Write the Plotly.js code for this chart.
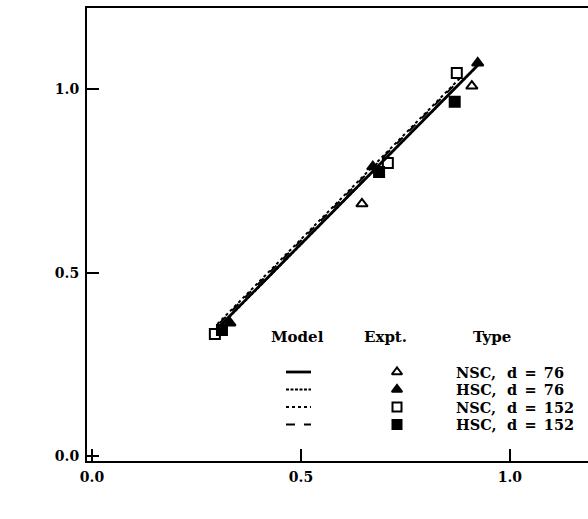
<!DOCTYPE html>
<html>
<head>
<meta charset="utf-8">
<script src="https://cdn.plot.ly/plotly-3.0.1.min.js"></script>
<style>html,body{margin:0;padding:0;background:#fff;}#chart{width:588px;height:519px;}</style>
</head>
<body>
<div id="chart"></div>
<script>
// ---- data ----
const typeNames = ['NSC,', 'HSC,', 'NSC,', 'HSC,'];
const typeDiam = ['d\u2002=\u200276', 'd\u2002=\u200276', 'd\u2002=\u2002152', 'd\u2002=\u2002152'];
const exptSymbols = ['triangle-up-open', 'triangle-up', 'square-open', 'square'];
const modelDashes = ['solid', '3px,1.5px', 'dot', 'dash'];
const modelWidths = [2.8, 2, 2, 2];

// experimental points (Pc/P1, Pf/P1)
const exptX = [
  [0.646, 0.909],
  [0.330, 0.672, 0.923],
  [0.294, 0.708, 0.873],
  [0.311, 0.687, 0.868]
];
const exptY = [
  [0.688, 1.009],
  [0.363, 0.789, 1.072],
  [0.333, 0.799, 1.045],
  [0.344, 0.775, 0.966]
];
// model lines
const modelX = [
  [0.300, 0.925],
  [0.305, 0.920],
  [0.300, 0.880],
  [0.305, 0.870]
];
const modelY = [
  [0.348, 1.068],
  [0.352, 1.062],
  [0.360, 1.030],
  [0.362, 1.015]
];

const xTicks = [0, 0.5, 1.0];
const xTickText = ['0.0', '0.5', '1.0'];
const yTicks = [0, 0.5, 1.0];
const yTickText = ['0.0', '0.5', '1.0'];
const headers = ['Model', 'Expt.', 'Type'];

// ---- layout helpers (pixel positions of the legend, on overlay axes) ----
const FONT = 'DejaVu Serif';
const headerPos = [[297, 337], [385, 337], [492, 337]];
const rowY = [372, 389.5, 407, 424.5];
const lineX = [286, 311];
const markX = 397;
const nameX = 455;
const diamX = 506;

const traces = [];
for (let i = 0; i < 4; i++) {
  traces.push({
    x: modelX[i], y: modelY[i], mode: 'lines', type: 'scatter', showlegend: false,
    line: {color: '#000', width: modelWidths[i], dash: modelDashes[i]}, hoverinfo: 'skip'
  });
}
for (let i = 0; i < 4; i++) {
  traces.push({
    x: exptX[i], y: exptY[i], mode: 'markers', type: 'scatter', showlegend: false,
    marker: {symbol: exptSymbols[i], size: 10, color: '#000', line: {color: '#000', width: 2}},
    hoverinfo: 'skip'
  });
}
// legend samples on pixel-scaled overlay axes
for (let i = 0; i < 4; i++) {
  traces.push({
    x: lineX, y: [rowY[i], rowY[i]], xaxis: 'x2', yaxis: 'y2', mode: 'lines', type: 'scatter',
    showlegend: false, line: {color: '#000', width: modelWidths[i], dash: modelDashes[i]}, hoverinfo: 'skip'
  });
  traces.push({
    x: [markX], y: [rowY[i]], xaxis: 'x2', yaxis: 'y2', mode: 'markers', type: 'scatter',
    showlegend: false, marker: {symbol: exptSymbols[i], size: 9, color: '#000', line: {color: '#000', width: 2}},
    hoverinfo: 'skip'
  });
}

const annotations = [];
headers.forEach((h, i) => annotations.push({
  text: h, x: headerPos[i][0], y: headerPos[i][1], xref: 'x2', yref: 'y2', showarrow: false,
  xanchor: 'center', yanchor: 'middle', borderpad: 0, font: {family: FONT, size: 15, color: '#000', weight: 'bold'}
}));
for (let i = 0; i < 4; i++) {
  annotations.push({
    text: typeNames[i], x: nameX, y: rowY[i], xref: 'x2', yref: 'y2', showarrow: false,
    xanchor: 'left', yanchor: 'middle', borderpad: 0, font: {family: FONT, size: 14.5, color: '#000', weight: 'bold'}
  });
  annotations.push({
    text: typeDiam[i], x: diamX, y: rowY[i], xref: 'x2', yref: 'y2', showarrow: false,
    xanchor: 'left', yanchor: 'middle', borderpad: 0, font: {family: FONT, size: 14.5, color: '#000', weight: 'bold'}
  });
}
// axis titles
annotations.push({
  text: 'P<sub>c</sub>/P<sub>1</sub>', x: 298, y: 505, xref: 'x2', yref: 'y2', showarrow: false,
  xanchor: 'center', yanchor: 'middle', font: {family: FONT, size: 15, color: '#000', weight: 'bold'}
});
annotations.push({
  text: 'P<sub>f</sub>/P<sub>1</sub>', x: 21, y: 273, xref: 'x2', yref: 'y2', showarrow: false, textangle: -90,
  xanchor: 'center', yanchor: 'middle', font: {family: FONT, size: 15, color: '#000', weight: 'bold'}
});

const layout = {
  width: 588, height: 519,
  margin: {l: 87, r: 0, t: 8, b: 58, pad: 0},
  paper_bgcolor: '#fff', plot_bgcolor: '#fff',
  showlegend: false,
  font: {family: FONT, size: 14, color: '#000'},
  xaxis: {
    range: [-0.012, 1.187], tickvals: xTicks, ticktext: xTickText, ticks: 'inside', ticklen: 12, tickwidth: 2,
    tickcolor: '#000', showline: true, linewidth: 2, linecolor: '#000', mirror: true, showgrid: false, zeroline: false,
    tickfont: {family: FONT, size: 14, color: '#000', weight: 'bold'}, ticklabelstandoff: 2
  },
  yaxis: {
    range: [-0.0136, 1.222], tickvals: yTicks, ticktext: yTickText, ticks: 'inside', ticklen: 12, tickwidth: 2,
    tickcolor: '#000', showline: true, linewidth: 2, linecolor: '#000', showgrid: false, zeroline: false,
    tickfont: {family: FONT, size: 14, color: '#000', weight: 'bold'}, ticklabelstandoff: 3
  },
  xaxis2: {overlaying: 'x', range: [87, 588], visible: false, fixedrange: true},
  yaxis2: {overlaying: 'y', range: [461, 8], visible: false, fixedrange: true},
  annotations: annotations
};

Plotly.newPlot('chart', traces, layout, {staticPlot: true, displayModeBar: false});
</script>
</body>
</html>
